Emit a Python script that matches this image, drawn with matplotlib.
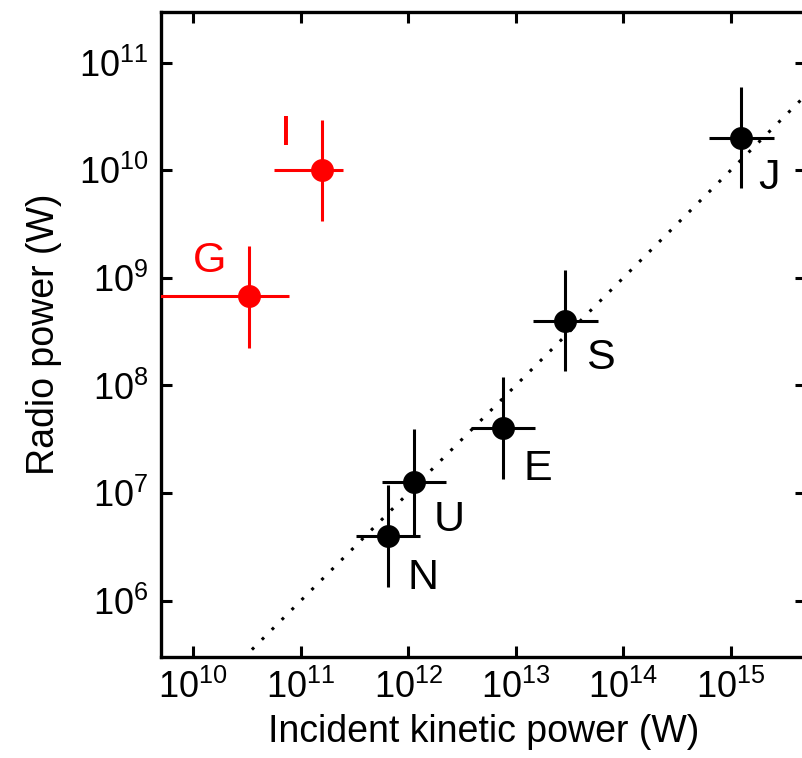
import numpy as np
import matplotlib
matplotlib.use("Agg")
import matplotlib.pyplot as plt
from matplotlib.ticker import FixedLocator, FuncFormatter, NullLocator

plt.rcParams["font.family"] = ["Liberation Sans", "DejaVu Sans"]

# planets: label, kinetic power (W), radio power (W), error factors
names      = ["N", "U", "E", "S", "J", "G", "I"]
p_kin      = [6.5e11, 1.14e12, 7.6e12, 2.9e13, 1.25e15, 3.3e10, 1.57e11]
p_kin_lo   = [3.3e11, 5.7e11, 3.8e12, 1.45e13, 6.3e14, 3.0e9, 5.6e10]
p_kin_hi   = [1.3e12, 2.25e12, 1.5e13, 5.8e13, 2.5e15, 7.8e10, 2.45e11]
p_rad      = [4.0e6, 1.28e7, 4.0e7, 4.0e8, 2.0e10, 6.8e8, 1.0e10]
p_rad_lo   = [1.35e6, 4.0e6, 1.35e7, 1.35e8, 6.8e9, 2.25e8, 3.4e9]
p_rad_hi   = [1.18e7, 3.9e7, 1.2e8, 1.18e9, 5.9e10, 1.97e9, 2.95e10]
colors     = ["black", "black", "black", "black", "black", "red", "red"]
# label offsets (points) relative to each point
label_dx   = [25, 25, 25, 25, 20, -28, -26]
label_dy   = [-30, -28, -29, -27, -29, 25, 26]

# fitted relation: P_radio = 1e-5 * P_kinetic
fit_x = [1e9, 1e16]
fit_coef = 1e-5

fig = plt.figure(figsize=(8.03, 7.58), dpi=100)
ax = fig.add_axes([161 / 803, 101 / 758, 645 / 803, 645 / 758])
ax.set_xscale("log")
ax.set_yscale("log")

ax.plot(fit_x, [fit_coef * v for v in fit_x], color="black", lw=2.2,
        linestyle=(0, (1, 3.6)), zorder=1)

for i, n in enumerate(names):
    xerr = [[p_kin[i] - p_kin_lo[i]], [p_kin_hi[i] - p_kin[i]]]
    yerr = [[p_rad[i] - p_rad_lo[i]], [p_rad_hi[i] - p_rad[i]]]
    ax.errorbar([p_kin[i]], [p_rad[i]], xerr=xerr, yerr=yerr, fmt="o",
                color=colors[i], ms=15.5, elinewidth=2.2, capsize=0, zorder=3)
    ax.annotate(n, (p_kin[i], p_rad[i]), xytext=(label_dx[i], label_dy[i]),
                textcoords="offset points", ha="center", va="center",
                fontsize=31, color=colors[i])

ax.set_xlim(10 ** 9.70, 10 ** 15.70)
ax.set_ylim(10 ** 5.477, 10 ** 11.47)

fmt = FuncFormatter(lambda v, p: r"$\mathregular{10^{%d}}$" % round(np.log10(v)))
ax.xaxis.set_major_locator(FixedLocator([10.0 ** k for k in range(10, 16)]))
ax.yaxis.set_major_locator(FixedLocator([10.0 ** k for k in range(6, 12)]))
ax.xaxis.set_minor_locator(NullLocator())
ax.yaxis.set_minor_locator(NullLocator())
ax.xaxis.set_major_formatter(fmt)
ax.yaxis.set_major_formatter(fmt)
ax.tick_params(which="major", direction="in", length=8, width=2.2,
               top=True, right=True, labelsize=26, pad=9)

for s in ax.spines.values():
    s.set_linewidth(2.4)

ax.set_xlabel("Incident kinetic power (W)", fontsize=27, labelpad=6)
ax.set_ylabel("Radio power (W)", fontsize=27, labelpad=12)

fig.savefig("out.png", dpi=100)
